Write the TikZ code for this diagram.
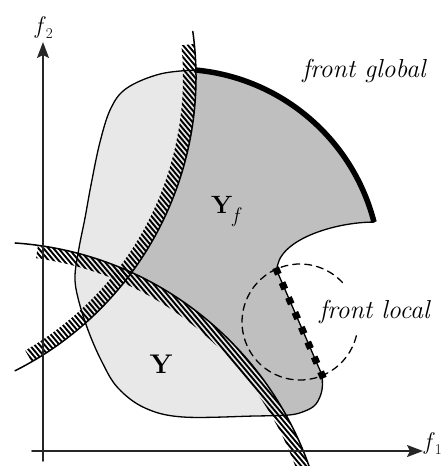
\documentclass[tikz,border=0pt]{standalone}
\usepackage{fontspec}
\usetikzlibrary{arrows.meta,calc}
\definecolor{setlight}{gray}{0.91}
\definecolor{setdark}{gray}{0.75}

\begin{document}
\begin{tikzpicture}[x=1pt,y=-1pt,line cap=round,line join=round]
  \tikzset{
    axis/.style={line width=1.6pt,black!85,-{Stealth[length=16pt,width=12pt,inset=3pt]}},
    outline/.style={line width=1.3pt},
    frontline/.style={line width=5.5pt,line cap=butt},
    limit/.style={line width=1.5pt},
    hatchline/.style={line width=1.9pt,line cap=butt},
    zone/.style={line width=1.3pt,dash pattern=on 7pt off 5pt},
    frontmark/.style={fill=black,minimum size=7pt,inner sep=0pt},
    lbl/.style={font=\fontsize{26}{30}\selectfont\itshape,inner sep=0pt},
    setlbl/.style={font=\fontsize{27}{30}\selectfont\bfseries,inner sep=0pt}
  }

  \newcommand{\hatchband}[5]{% centre, radius, inner radius, from, to
    \begin{scope}
      \clip (#1) ++(#4:#2) arc[start angle=#4, end angle=#5, radius=#2]
        -- ($(#1)+(#5:#3)$) arc[start angle=#5, end angle=#4, radius=#3] -- cycle;
      \foreach \k in {-380,-375,...,170}
        \draw[hatchline] (\k,0) -- ++(560,667);
    \end{scope}
  }

  \def\youtline{(195,70) arc[start angle=-84.9, end angle=-14.4, radius=203.5]
    .. controls (335,222) and (276,240) .. (277,271)
    -- (322,375)
    -- plot[smooth,tension=0.6] coordinates {(322,375) (322,390) (316,404) (305,411) (289,415) (255,416) (183,417) (145,408) (118,388) (102,362) (88,330) (78,298) (75,276) (79,248) (85,218) (91,185) (100,142) (111,108) (127,88) (160,74) (195,70)} -- cycle}

  \useasboundingbox (0,0) rectangle (444,466);

  \coordinate (c1) at (-132.6,77.2);   % centre of the left limit
  \coordinate (c2) at (-7.7,578.2);    % centre of the lower limit
  \coordinate (lf1) at (277,271);
  \coordinate (lf2) at (322,375);

  % the set Y, and the feasible part Yf
  \fill[setlight] \youtline;
  \begin{scope}
    \clip \youtline;
    \fill[setdark] (0,0) rectangle (444,466);
    \fill[setlight] (c1) circle[radius=328.6];
    \fill[setlight] (c2) circle[radius=336];
  \end{scope}
  \draw[outline] \youtline;
  \draw[frontline] (195,70) arc[start angle=-84.9, end angle=-14.4, radius=203.5];

  % constraint limits
  \hatchband{c1}{328.6}{315.6}{-5.8}{60}
  \hatchband{c2}{336}{323}{-82.2}{-15}
  \draw[limit] (c1) ++(-8:328.6) arc[start angle=-8, end angle=63.3, radius=328.6];
  \draw[limit] (c2) ++(-86.1:336) arc[start angle=-86.1, end angle=-17, radius=336];

  % local front
  \draw[zone] (300,322) ++(13.8:58) arc[start angle=13.8, end angle=320.6, radius=58];
  \path (lf1) -- (lf2)
    foreach \p in {0,0.1429,0.2857,0.4286,0.5714,0.7143,0.8571,1} {node[frontmark,pos=\p,sloped] {}};

  % axes
  \coordinate (o1) at (32,451);
  \coordinate (o2) at (43,461);
  \coordinate (e1) at (423,451);
  \coordinate (e2) at (43,42);
  \draw[axis] (o1) -- (e1);
  \draw[axis] (o2) -- (e2);
  \node[anchor=base,inner sep=0pt,font=\fontsize{24}{26}\selectfont] (lblf2) at (44,33)
    {\textit{f}\raisebox{-5pt}{\fontsize{15}{15}\selectfont 2}};
  \node[anchor=base west,inner sep=0pt,font=\fontsize{24}{26}\selectfont] (lblf1) at (424,449)
    {\textit{f}\raisebox{-5pt}{\fontsize{15}{15}\selectfont 1}};

  % labels
  \node[lbl,anchor=base] (lblglobal) at (364,77) {front global};
  \node[lbl,anchor=base] (lbllocal) at (374.5,318) {front local};
  \node[setlbl,anchor=base] (lblY) at (161,373) {Y};
  \node[setlbl,anchor=base west,font=\fontsize{25}{30}\selectfont\bfseries] (lblYf) at (211,213)
    {Y\raisebox{-9pt}{\fontsize{21}{21}\selectfont\mdseries\itshape f}};
\end{tikzpicture}
\end{document}
